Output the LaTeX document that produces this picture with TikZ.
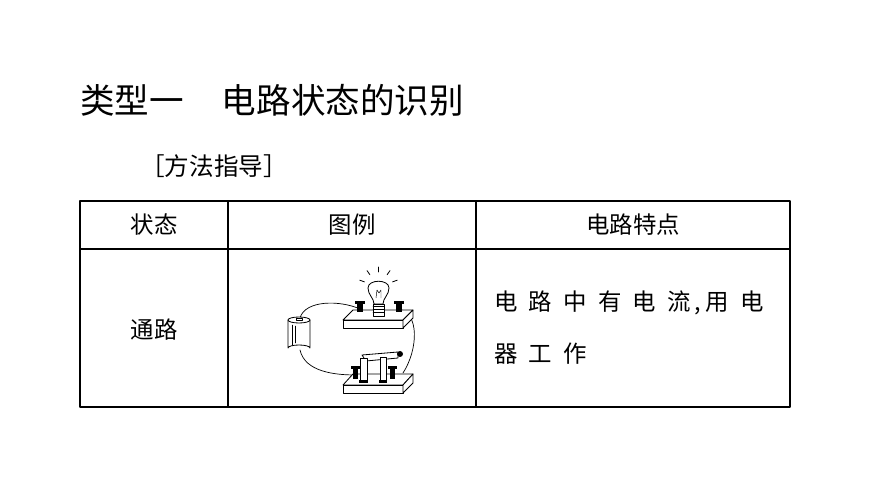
\documentclass[tikz,border=0pt]{standalone}
\usetikzlibrary{calc}
\usepackage{fontspec}
\newfontfamily\cjk{Noto Sans CJK SC}
\begin{document}
\begin{tikzpicture}[x=0.03cm,y=-0.03cm,line cap=round,line join=round]
\tikzset{txt/.style={font=\cjk\fontsize{20}{24}\selectfont,inner sep=0pt},
 grid/.style={line width=1pt},
 part/.style={draw,line width=0.7pt,fill=white},
 term/.style={fill=black}}
\useasboundingbox (0,0) rectangle (870,489);
\node[font=\cjk\fontsize{29.5}{32}\selectfont,anchor=west,inner sep=0pt] (title) at (80,100) {类型一\hspace{1.1em}电路状态的识别};
\node[font=\cjk\fontsize{21}{24}\selectfont,anchor=west,inner sep=0pt] (guide) at (140,166) {［方法指导］};
% table
\draw[grid] (80,201) rectangle (790,407);
\draw[grid] (80,249) -- (790,249);
\draw[grid] (228,201) -- (228,407);
\draw[grid] (476,201) -- (476,407);
\node[txt] (h1) at (154,225) {状态};
\node[txt] (h2) at (352,225) {图例};
\node[txt] (h3) at (633,225) {电路特点};
\node[txt] (c1) at (154,330) {通路};
\node[txt,anchor=west] (c3a) at (494,303) {电\hspace{0.48em}路\hspace{0.48em}中\hspace{0.48em}有\hspace{0.48em}电\hspace{0.48em}流\,,\,用\hspace{0.48em}电};
\node[txt,anchor=west] (c3b) at (494,354) {器\hspace{0.48em}工\hspace{0.48em}作};
% wires
\draw[line width=0.6pt] (300,318) .. controls (305,300) and (340,300) .. (360,309);
\draw[line width=0.6pt] (398,309) .. controls (420,312) and (418,350) .. (403,373);
\draw[line width=0.6pt] (300,350) .. controls (305,372) and (335,375) .. (356,375);
% battery
\draw[part] (288,320) -- (288,348) arc[start angle=180,end angle=360,x radius=11,y radius=3] -- (310,320);
\draw[part] (299,320) ellipse[x radius=11,y radius=3];
\draw[part] (296,318.5) rectangle (302,320.5);
\draw[line width=0.4pt] (292,325) -- (292,345) (295,326) -- (295,343);
% top board
\draw[part] (343,320) -- (353,310) -- (413,310) -- (403,320) -- cycle;
\draw[part] (343,320) rectangle (403,328);
\draw[part] (403,320) -- (413,310) -- (413,318) -- (403,328) -- cycle;
\fill (357,302) rectangle (363,312);
\fill (355,301) rectangle (365,304);
\fill (396,302) rectangle (402,312);
\fill (394,301) rectangle (404,304);
% lamp
\draw[part] (373,304) rectangle (384,316);
\foreach \y in {306,309,312} \draw[line width=0.4pt] (373,\y) -- (384,\y);
\draw[part] (374,304) .. controls (374,298) and (368,295) .. (368,288) .. controls (368,279) and (389,279) .. (389,288) .. controls (389,295) and (383,298) .. (383,304) -- cycle;
\draw[line width=0.4pt] (376,298) -- (377,290) -- (379,293) -- (381,290) -- (381,298);
\foreach \a in {90,55,125,20,160} \draw[line width=0.7pt] ($(378.5,287)+(\a:-15)$) -- ($(378.5,287)+(\a:-20)$);
% lower board
\draw[part] (343,385) -- (353,374) -- (413,374) -- (403,385) -- cycle;
\draw[part] (343,385) rectangle (403,393);
\draw[part] (403,385) -- (413,374) -- (413,383) -- (403,393) -- cycle;
\fill (353,367) rectangle (358,379);
\fill (351,366) rectangle (360,369);
\fill (390,367) rectangle (395,379);
\fill (388,366) rectangle (397,369);
% switch
\draw[part] (362,355) -- (398,352) -- (398,358) -- (366,361) -- cycle;
\draw[part] (360,358) rectangle (367,381);
\draw[part] (380,357) rectangle (386,381);
\fill (359,380) rectangle (368,383);
\fill (379,380) rectangle (387,383);
\fill (400,354) circle (3);
\end{tikzpicture}
\end{document}
